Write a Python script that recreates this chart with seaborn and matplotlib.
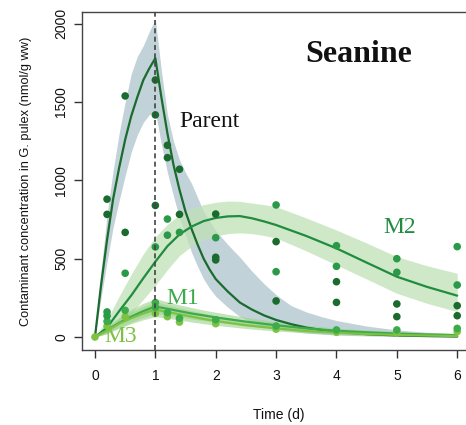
import numpy as np
import pandas as pd
import matplotlib
matplotlib.use("Agg")
import matplotlib.pyplot as plt
import seaborn as sns

# ---------------- data ----------------
# model curves
t_curve = [0, 0.1, 0.2, 0.3, 0.4, 0.5, 0.6, 0.7, 0.8, 0.9, 1.0, 1.1, 1.2, 1.3, 1.4, 1.5, 1.6, 1.7,
           1.8, 1.9, 2.0, 2.2, 2.4, 2.6, 2.8, 3.0, 3.25, 3.5, 3.75, 4.0, 4.5, 5.0, 5.5, 6.0]
parent_mean = [0, 330, 620, 880, 1080, 1260, 1410, 1530, 1640, 1715, 1780, 1530, 1300, 1100, 940, 800,
               690, 590, 500, 430, 370, 290, 220, 175, 138, 109, 82, 60, 45, 33, 18, 10, 6, 3]
parent_hi = [0, 420, 780, 1060, 1300, 1500, 1680, 1790, 1860, 1950, 2030, 1700, 1420, 1250, 1130, 1050,
             980, 890, 800, 740, 680, 590, 510, 420, 340, 270, 200, 160, 130, 105, 70, 45, 30, 20]
parent_lo = [0, 250, 480, 700, 870, 1030, 1180, 1290, 1370, 1420, 1440, 1230, 1050, 900, 760, 650,
             540, 450, 370, 310, 260, 190, 130, 95, 65, 50, 37, 25, 18, 12, 7, 3, 2, 1]

t_m = [0, 0.2, 0.4, 0.6, 0.8, 1.0, 1.2, 1.4, 1.6, 1.8, 2.0, 2.2, 2.4, 2.6, 2.8, 3.0, 3.5, 4.0, 4.5, 5.0, 5.5, 6.0]
m2_mean = [0, 60, 165, 265, 375, 481, 580, 655, 705, 740, 760, 770, 772, 758, 738, 715, 645, 566, 475, 385, 320, 264]
m2_hi = [0, 110, 260, 400, 530, 640, 720, 780, 820, 845, 860, 868, 866, 855, 845, 832, 760, 683, 600, 513, 455, 407]
m2_lo = [0, 20, 80, 150, 240, 330, 430, 520, 580, 620, 645, 660, 665, 660, 648, 632, 550, 460, 370, 279, 215, 162]

t_s = [0, 0.2, 0.4, 0.6, 0.8, 1.0, 1.2, 1.4, 1.6, 1.8, 2.0, 2.5, 3.0, 3.5, 4.0, 4.5, 5.0, 5.5, 6.0]
m1_mean = [0, 45, 90, 130, 165, 195, 180, 165, 150, 138, 125, 98, 75, 55, 40, 30, 22, 16, 12]
m1_hi = [0, 70, 125, 175, 215, 245, 225, 205, 188, 172, 158, 125, 98, 75, 57, 45, 35, 27, 22]
m1_lo = [0, 25, 60, 95, 125, 150, 140, 128, 115, 105, 95, 72, 53, 38, 26, 18, 12, 8, 5]
m3_mean = [0, 40, 85, 120, 150, 175, 160, 145, 130, 115, 102, 75, 55, 38, 27, 19, 13, 9, 6]
m3_hi = [0, 60, 115, 160, 195, 225, 205, 185, 168, 152, 135, 102, 78, 57, 42, 31, 23, 17, 12]
m3_lo = [0, 22, 55, 85, 110, 130, 120, 108, 96, 85, 75, 54, 38, 26, 17, 11, 7, 4, 3]

# observations
parent_t = [0.2, 0.2, 0.5, 0.5, 1, 1, 1, 1.2, 1.2, 1.4, 1.4, 2, 2, 2, 3, 3, 4, 4, 5, 5, 6, 6]
parent_y = [880, 783, 1539, 668, 1641, 1418, 840, 1224, 1145, 1071, 783, 785, 509, 492, 609, 230, 353, 221, 211, 130, 200, 136]
m2_t = [0.2, 0.2, 0.5, 1, 1.2, 1.2, 1.4, 2, 3, 3, 4, 4, 5, 5, 6, 6]
m2_y = [160, 135, 407, 575, 753, 650, 668, 634, 843, 417, 583, 451, 500, 413, 577, 332]
m1_t = [0.2, 0.5, 1, 1, 1.2, 1.4, 2, 3, 4, 5, 6]
m1_y = [100, 170, 220, 190, 155, 120, 110, 70, 45, 45, 55]
m3_t = [0, 0.2, 0.5, 1, 1, 1.2, 1.4, 2, 3, 4, 5, 6]
m3_y = [0, 70, 130, 175, 150, 130, 95, 85, 50, 30, 25, 35]

x_ticks = [0, 1, 2, 3, 4, 5, 6]
y_ticks = [0, 500, 1000, 1500, 2000]

# ---------------- style ----------------
sns.set_style("ticks")
plt.rcParams['font.family'] = ['Liberation Sans', 'DejaVu Sans']

c_parent = "#1b6a2e"
c_m2 = "#1f8c3f"
c_m1 = "#3dab4a"
c_m3 = "#7dc243"
c_parent_band = "#adc3cb"
c_m2_band = "#bfe1b6"
c_small_band = "#9bd38c"

fig = plt.figure(figsize=(4.66, 4.25), dpi=100)
ax = fig.add_axes([82 / 466, 1 - 350 / 425, 1 - 82 / 466 + 0.02, (350 - 12) / 425])

# bands
ax.fill_between(t_curve, parent_lo, parent_hi, color=c_parent_band, alpha=0.75, lw=0, zorder=1)
ax.fill_between(t_m, m2_lo, m2_hi, color=c_m2_band, alpha=0.75, lw=0, zorder=1)
ax.fill_between(t_s, m1_lo, m1_hi, color=c_small_band, alpha=0.6, lw=0, zorder=1)
ax.fill_between(t_s, m3_lo, m3_hi, color=c_small_band, alpha=0.6, lw=0, zorder=1)

# lines
sns.lineplot(x=t_curve, y=parent_mean, ax=ax, color=c_parent, lw=1.6, zorder=3)
sns.lineplot(x=t_m, y=m2_mean, ax=ax, color=c_m2, lw=1.6, zorder=3)
sns.lineplot(x=t_s, y=m1_mean, ax=ax, color=c_m1, lw=1.6, zorder=3)
sns.lineplot(x=t_s, y=m3_mean, ax=ax, color=c_m3, lw=1.6, zorder=3)

# points
sns.scatterplot(x=m3_t, y=m3_y, ax=ax, color=c_m3, s=30, edgecolor="none", zorder=4)
sns.scatterplot(x=m1_t, y=m1_y, ax=ax, color=c_m1, s=30, edgecolor="none", zorder=4)
sns.scatterplot(x=m2_t, y=m2_y, ax=ax, color="#2a9a48", s=30, edgecolor="none", zorder=4)
sns.scatterplot(x=parent_t, y=parent_y, ax=ax, color=c_parent, s=30, edgecolor="none", zorder=4)

# dashed vertical line at end of exposure
ax.axvline(1, color="#444444", lw=1.2, ls=(0, (3, 2)), zorder=5)

# labels
ax.text(4.37, 1801, "Seanine", family="Liberation Serif", fontweight="bold", fontsize=23,
        ha="center", va="center", color="#111111")
ax.text(1.89, 1379, "Parent", family="Liberation Serif", fontsize=17, ha="center", va="center", color="#111111")
ax.text(5.05, 696, "M2", family="Liberation Serif", fontsize=17, ha="center", va="center", color=c_m2)
ax.text(1.46, 249, "M1", family="Liberation Serif", fontsize=17, ha="center", va="center", color=c_m1)
ax.text(0.43, 0, "M3", family="Liberation Serif", fontsize=17, ha="center", va="center", color=c_m3)

ax.set_xlim(-0.215, 6.3)
ax.set_ylim(-83, 2075)
ax.set_xticks(x_ticks)
ax.set_xticklabels([str(v) for v in x_ticks])
ax.set_yticks(y_ticks)
ax.set_yticklabels([str(v) for v in y_ticks], rotation=90, va="center")
ax.tick_params(axis="both", direction="out", length=6, width=1, color="#333333",
               labelsize=10, pad=8, labelcolor="#111111")
ax.tick_params(axis="y", pad=4)
for side in ["left", "top", "bottom", "right"]:
    ax.spines[side].set_color("#444444")
    ax.spines[side].set_linewidth(1)
ax.set_xlabel("Time (d)", fontsize=10, labelpad=18, color="#111111")
ax.set_ylabel("Contaminant concentration in G. pulex (nmol/g ww)", fontsize=9.2, labelpad=16, color="#111111")

fig.savefig("out.png", dpi=100)
